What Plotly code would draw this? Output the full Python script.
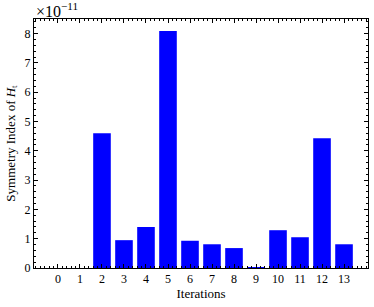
import plotly.graph_objects as go

iterations = list(range(14))
# Symmetry index values in units of 1e-11
symmetry_index = [0.0, 0.0, 4.60, 0.95, 1.40, 8.09, 0.93, 0.81, 0.68, 0.03, 1.29, 1.05, 4.43, 0.81]
y_ticks = [0, 1, 2, 3, 4, 5, 6, 7, 8]

FONT = "Liberation Serif"

fig = go.Figure(go.Bar(
    x=iterations, y=symmetry_index, width=0.8,
    marker=dict(color="#0000ff", line=dict(width=0)),
))

axis_common = dict(
    showline=True, linecolor="black", linewidth=1, mirror="allticks",
    ticks="inside", ticklen=4, tickwidth=0.8, tickcolor="black",
    showgrid=False, zeroline=False, automargin=False,
    tickfont=dict(family=FONT, size=12, color="black"),
)

fig.update_xaxes(
    **axis_common, range=[-1.09, 14.09], tickmode="array", tickvals=iterations,
    minor=dict(ticks="inside", ticklen=2, tickwidth=0.6, tickcolor="black", dtick=0.2, tick0=0),
    title=dict(text="Iterations", font=dict(family=FONT, size=13, color="black"), standoff=3),
)
fig.update_yaxes(
    **axis_common, range=[0, 8.5], tickmode="array", tickvals=y_ticks,
    minor=dict(ticks="inside", ticklen=2, tickwidth=0.6, tickcolor="black", dtick=0.2, tick0=0),
    title=dict(text="Symmetry Index of <i>H</i><sub>t</sub>", font=dict(family=FONT, size=13, color="black"), standoff=6),
)

fig.add_annotation(
    text="×10<sup>−11</sup>", xref="paper", yref="paper", x=0, y=1.0,
    xanchor="left", yanchor="bottom", showarrow=False, yshift=-3,
    font=dict(family=FONT, size=16, color="black"),
)

fig.update_layout(
    width=374, height=307,
    margin=dict(l=34, r=6, t=19, b=39),
    plot_bgcolor="white", paper_bgcolor="white",
    showlegend=False,
)

fig.write_html("out.html", config={"displayModeBar": False},
               post_script="document.body.style.margin='0';document.body.style.padding='0';")
